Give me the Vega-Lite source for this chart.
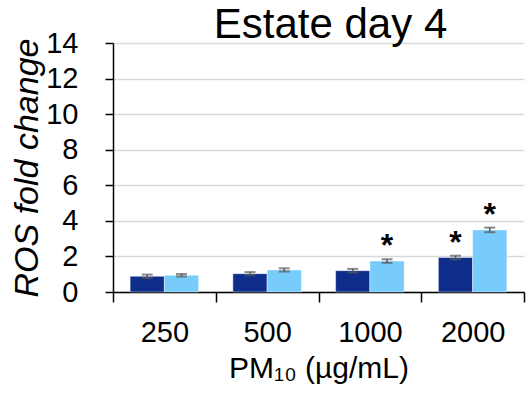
{
  "$schema": "https://vega.github.io/schema/vega-lite/v6.json",
  "autosize": {"type": "none"},
  "width": 411,
  "height": 249,
  "padding": {"left": 113, "top": 43, "right": 6, "bottom": 104},
  "background": "white",
  "config": {
    "view": {"stroke": null},
    "font": "Liberation Sans",
    "axis": {"labelFont": "Liberation Sans", "titleFont": "Liberation Sans", "labelColor": "black", "titleColor": "black", "domainColor": "black", "tickColor": "black", "domainWidth": 1.5, "tickWidth": 1.5},
    "axisY": {"titleFontStyle": "italic", "titleFontSize": 34, "titleFontWeight": "normal", "titlePadding": 1, "labelFontSize": 29, "labelPadding": 27, "labelOverlap": false, "tickSize": 8, "tickCount": 7, "grid": true, "gridColor": "#D9D9D9", "gridWidth": 1.5}
  },
  "title": {"text": "Estate day 4", "fontSize": 42, "font": "Liberation Sans", "fontWeight": "normal", "color": "black", "anchor": "middle", "dx": 12, "baseline": "alphabetic", "offset": -51},
  "data": {
    "values": [
      {"conc": "250", "group": "A", "value": 0.88, "lo": 0.78, "hi": 0.98, "star": ""},
      {"conc": "250", "group": "B", "value": 0.94, "lo": 0.87, "hi": 1.01, "star": ""},
      {"conc": "500", "group": "A", "value": 1.03, "lo": 0.94, "hi": 1.12, "star": ""},
      {"conc": "500", "group": "B", "value": 1.24, "lo": 1.15, "hi": 1.33, "star": ""},
      {"conc": "1000", "group": "A", "value": 1.2, "lo": 1.1, "hi": 1.3, "star": ""},
      {"conc": "1000", "group": "B", "value": 1.74, "lo": 1.64, "hi": 1.84, "star": "*"},
      {"conc": "2000", "group": "A", "value": 1.94, "lo": 1.84, "hi": 2.04, "star": "*"},
      {"conc": "2000", "group": "B", "value": 3.49, "lo": 3.36, "hi": 3.62, "star": "*"}
    ]
  },
  "encoding": {
    "x": {
      "field": "conc", "type": "nominal", "sort": ["250", "500", "1000", "2000"],
      "scale": {"paddingInner": 0, "paddingOuter": 0},
      "axis": {"title": "PM₁₀ (µg/mL)", "titleFontSize": 30, "titleFontWeight": "normal", "titlePadding": 6, "labelFontSize": 29, "labelAngle": 0, "labelPadding": 16, "tickSize": 10, "tickBand": "extent", "grid": false}
    },
    "xOffset": {"field": "group", "type": "nominal", "scale": {"paddingInner": 0, "paddingOuter": 0.5}}
  },
  "layer": [
    {
      "mark": {"type": "bar", "stroke": "white", "strokeWidth": 0.7, "strokeOpacity": 0.6},
      "encoding": {
        "y": {"field": "value", "type": "quantitative", "title": "ROS fold change", "scale": {"domain": [0, 14], "nice": false}},
        "color": {"field": "group", "type": "nominal", "legend": null, "scale": {"domain": ["A", "B"], "range": ["#0F2E8C", "#78CCFB"]}}
      }
    },
    {
      "mark": {"type": "rule", "color": "#595959", "strokeWidth": 1.5},
      "encoding": {"y": {"field": "lo", "type": "quantitative", "title": "ROS fold change"}, "y2": {"field": "hi"}}
    },
    {
      "mark": {"type": "tick", "color": "#595959", "size": 11, "thickness": 2},
      "encoding": {"y": {"field": "lo", "type": "quantitative", "title": "ROS fold change"}}
    },
    {
      "mark": {"type": "tick", "color": "#595959", "size": 11, "thickness": 2},
      "encoding": {"y": {"field": "hi", "type": "quantitative", "title": "ROS fold change"}}
    },
    {
      "transform": [{"filter": "datum.star != ''"}],
      "mark": {"type": "text", "fontSize": 32, "fontWeight": "bold", "font": "Liberation Sans", "color": "black", "baseline": "alphabetic", "dy": -3},
      "encoding": {"y": {"field": "hi", "type": "quantitative", "title": "ROS fold change"}, "text": {"field": "star"}}
    }
  ]
}
